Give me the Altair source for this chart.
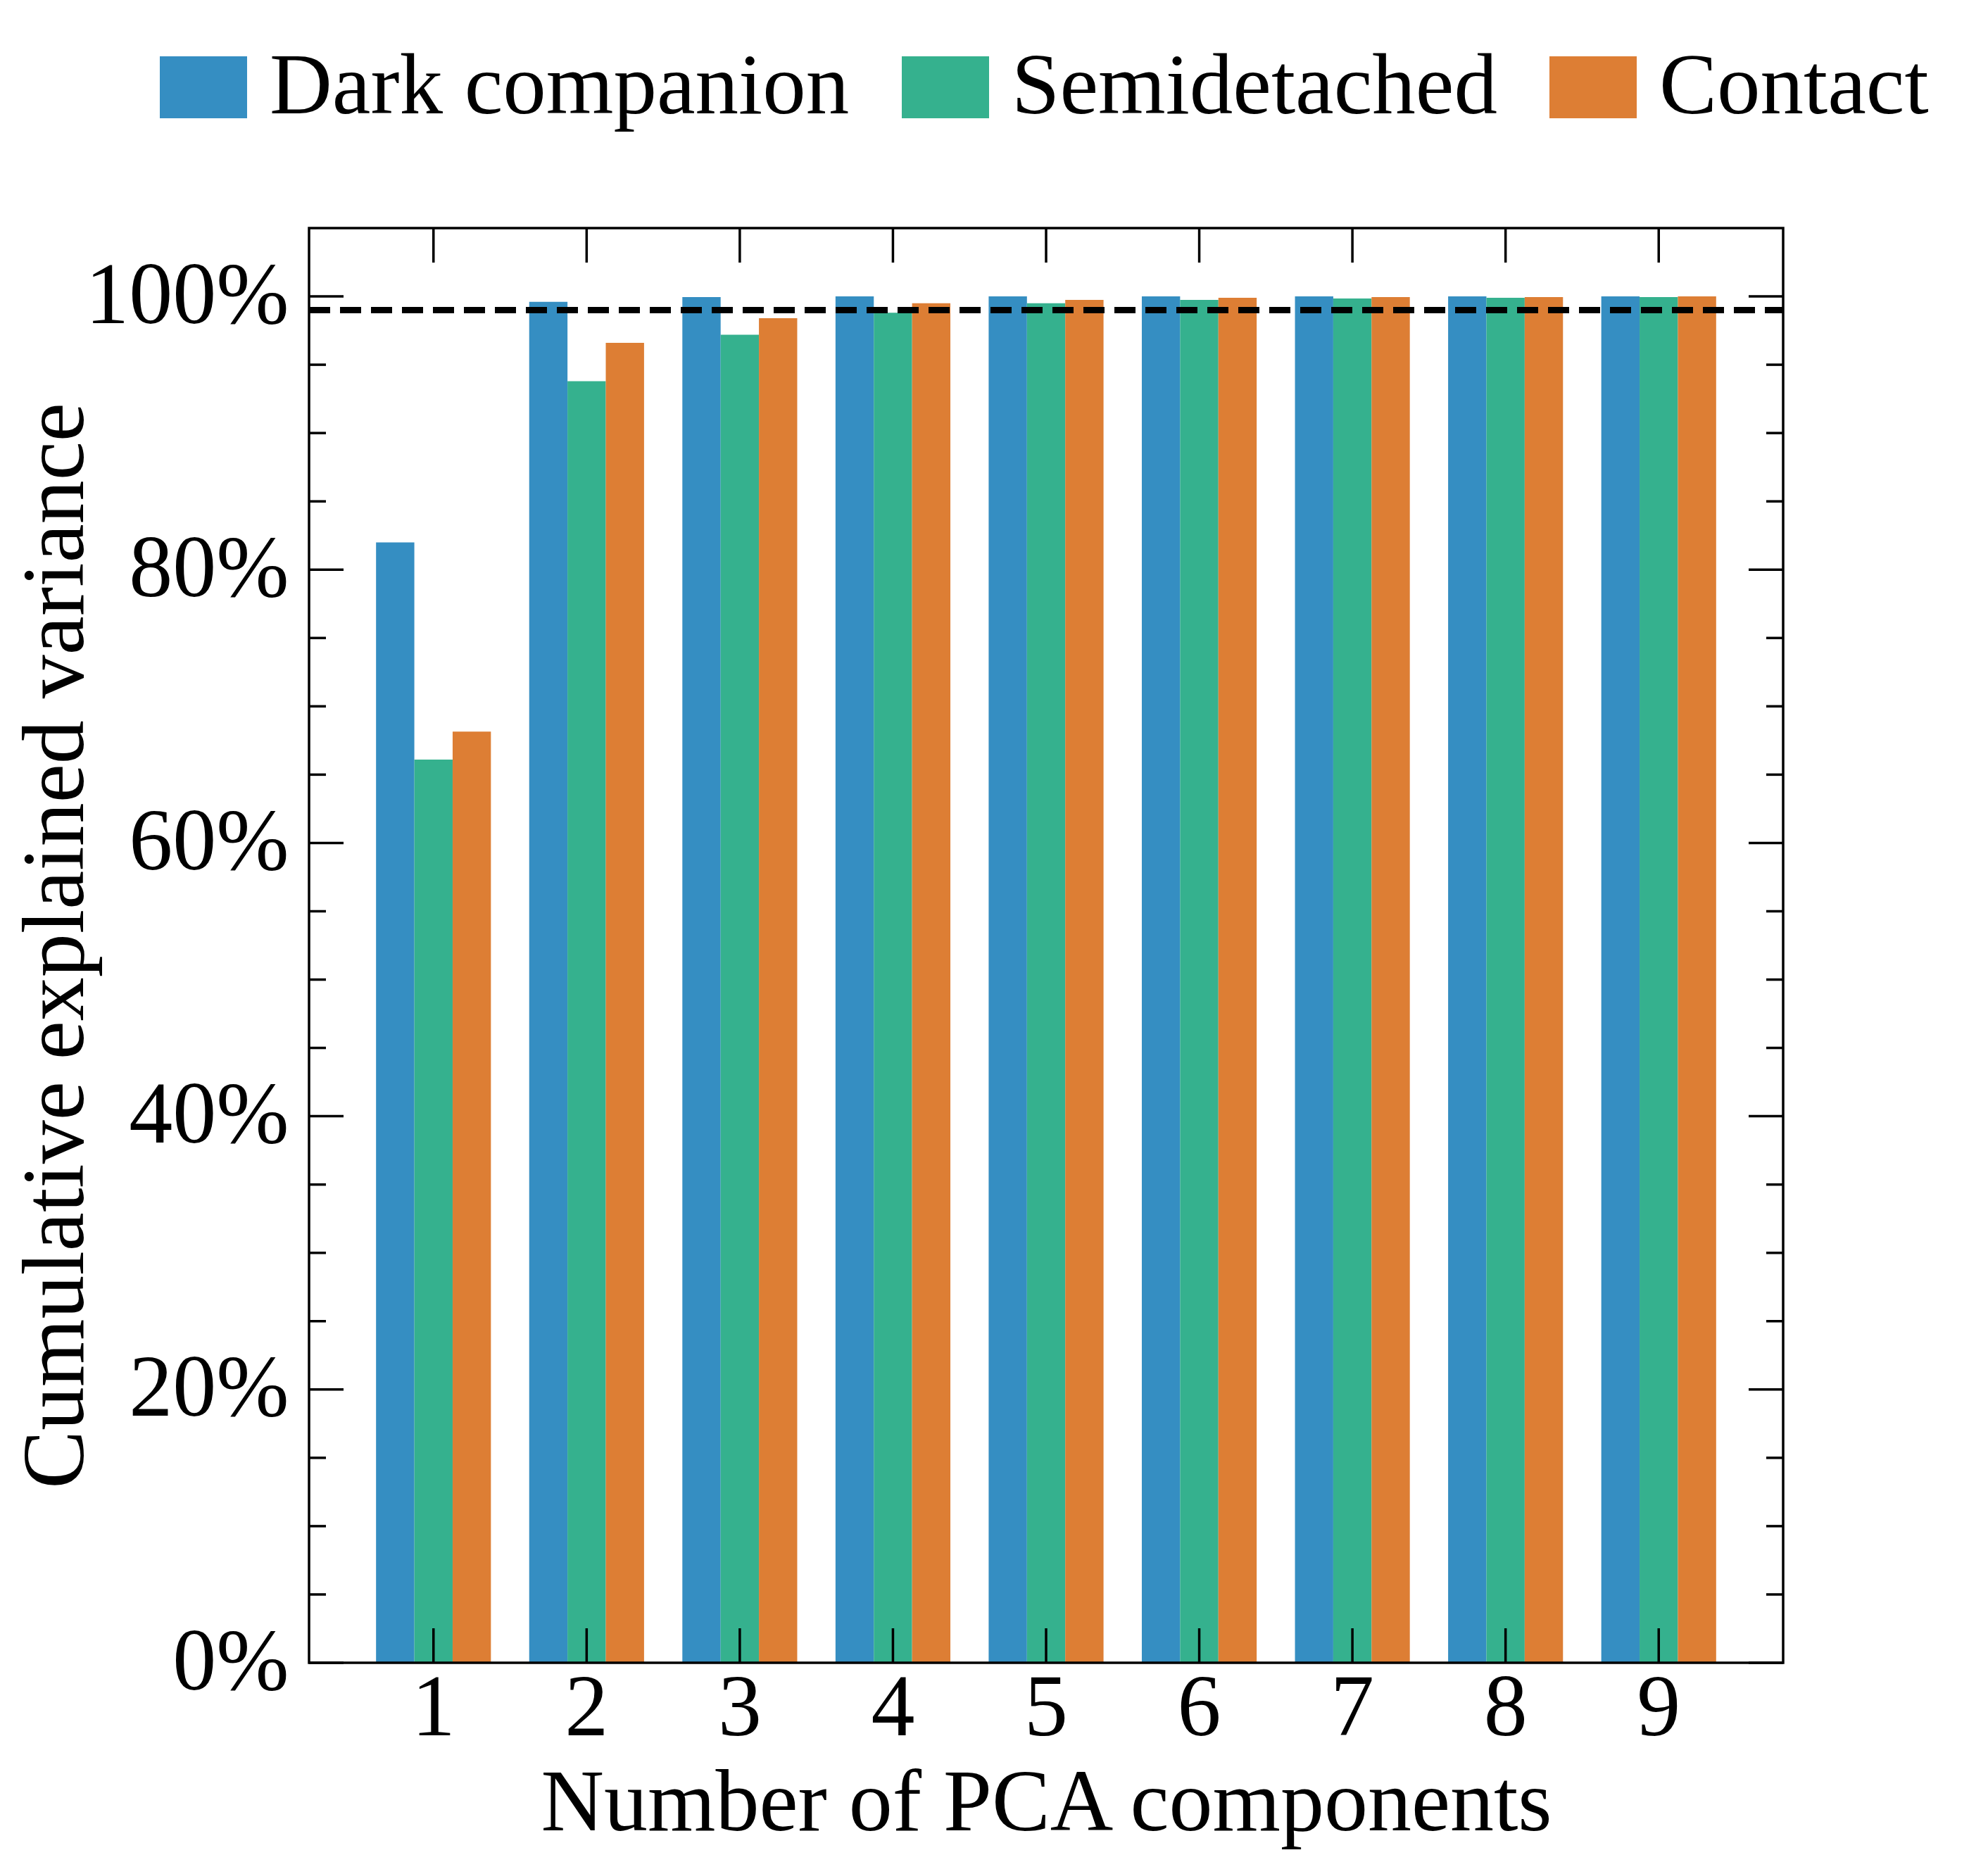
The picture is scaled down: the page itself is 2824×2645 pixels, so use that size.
import altair as alt
import pandas as pd

components = ["1", "2", "3", "4", "5", "6", "7", "8", "9"]
series_names = ["Dark companion", "Semidetached", "Contact"]
dark_companion = [82.0, 99.6, 99.95, 100.0, 100.0, 100.0, 100.0, 100.0, 100.0]
semidetached = [66.1, 93.8, 97.2, 98.8, 99.5, 99.75, 99.85, 99.9, 99.95]
contact = [68.15, 96.6, 98.4, 99.5, 99.75, 99.9, 99.95, 99.95, 100.0]
colors = ["#358EC2", "#35B18E", "#DD7E34"]
threshold = [99.0]
y_major = [0, 20, 40, 60, 80, 100]
y_minor = [5, 10, 15, 25, 30, 35, 45, 50, 55, 65, 70, 75, 85, 90, 95]

W, H = 2094, 2038
FONT = "Liberation Serif"
FS = 124
LW = 3.5

rows = []
for name, vals in zip(series_names, [dark_companion, semidetached, contact]):
    for c, v in zip(components, vals):
        rows.append({"component": c, "series": name, "value": v})
df = pd.DataFrame(rows)

xscale = alt.Scale(domain=components, paddingInner=0.25, paddingOuter=0.4375)
yscale = alt.Scale(domain=[0, 105], nice=False, zero=True)

xaxis = alt.Axis(
    title="Number of PCA components", labelAngle=0, ticks=False, domain=False,
    grid=False, labelFont=FONT, labelFontSize=FS, labelColor="black",
    labelFontWeight="normal", labelPadding=4, labelOverlap=False, labelLimit=1000,
    titleFont=FONT, titleFontSize=FS,
    titleFontWeight="normal", titleColor="black", titlePadding=12,
)
yaxis = alt.Axis(
    title="Cumulative explained variance", values=y_major,
    labelExpr="datum.value + '%'", ticks=False, domain=False, grid=False,
    labelFont=FONT, labelFontSize=FS, labelColor="black", labelPadding=29,
    labelLimit=1000, labelOverlap=False,
    titleFont=FONT, titleFontSize=FS, titleFontWeight="normal",
    titleColor="black", titlePadding=96, titleLimit=3000,
)

X = alt.X("component:O", scale=xscale, axis=xaxis)
Y = alt.Y("value:Q", scale=yscale, axis=yaxis)

bars = alt.Chart(df).mark_bar(stroke=None).encode(
    x=X,
    xOffset=alt.XOffset("series:N", sort=series_names,
                        scale=alt.Scale(domain=series_names, paddingInner=0, paddingOuter=0)),
    y=Y,
    color=alt.Color(
        "series:N", sort=series_names,
        scale=alt.Scale(domain=series_names, range=colors),
        legend=alt.Legend(
            orient="none", legendX=-212, legendY=-262, direction="horizontal",
            title=None, symbolType="M-1,-0.71H1V0.71H-1Z", symbolSize=15376,
            symbolStrokeWidth=0, symbolOpacity=1, labelFont=FONT,
            labelFontSize=123, labelColor="black", labelOffset=32,
            columnPadding=74, padding=0, labelLimit=2000,
        ),
    ),
)

dash = alt.Chart(pd.DataFrame({"value": threshold})).mark_rule(
    color="black", strokeWidth=9, strokeDash=[30, 14]
).encode(y=Y, x=alt.value(0), x2=alt.value(W))

ymaj = pd.DataFrame({"value": y_major})
ymin = pd.DataFrame({"value": y_minor})
xt = pd.DataFrame({"component": components})

def rule(data):
    return alt.Chart(data).mark_rule(color="black", strokeWidth=LW)

ticks = [
    rule(ymaj).encode(y=Y, x=alt.value(0), x2=alt.value(49)),
    rule(ymin).encode(y=Y, x=alt.value(0), x2=alt.value(24)),
    rule(ymaj).encode(y=Y, x=alt.value(W - 49), x2=alt.value(W)),
    rule(ymin).encode(y=Y, x=alt.value(W - 24), x2=alt.value(W)),
    rule(xt).encode(x=X, y=alt.value(H), y2=alt.value(H - 49)),
    rule(xt).encode(x=X, y=alt.value(0), y2=alt.value(49)),
]

frame = alt.Chart(pd.DataFrame({"value": [0]})).mark_rect(
    filled=False, stroke="black", strokeWidth=LW
).encode(x=alt.value(0), x2=alt.value(W), y=alt.value(0), y2=alt.value(H))

chart = alt.layer(bars, dash, *ticks, frame).properties(
    width=W, height=H,
    autosize=alt.AutoSizeParams(type="none"),
    padding={"left": 431, "top": 316, "right": 250, "bottom": 285},
).configure_view(stroke=None).configure(background="white")

chart.save("out.html", embed_options={"renderer": "svg", "actions": False})
